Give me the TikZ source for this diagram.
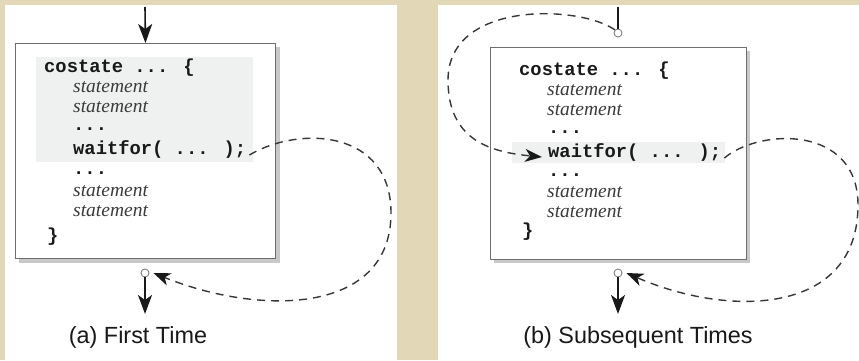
\documentclass[tikz,border=0pt]{standalone}
\usepackage{fontspec}
\setmainfont{Liberation Sans}
\newfontfamily\codefont{Liberation Mono}
\newfontfamily\stfont{Liberation Serif}
\usetikzlibrary{arrows.meta}
\definecolor{paper}{RGB}{226,216,184}
\definecolor{hilite}{RGB}{239,241,241}
\definecolor{boxline}{RGB}{110,110,110}
\definecolor{boxshade}{RGB}{200,200,200}
\definecolor{ink}{RGB}{25,25,25}
\definecolor{loopink}{RGB}{55,55,55}
\tikzset{
  panel/.style={fill=white, draw=none},
  codebox/.style={draw=boxline, fill=white, line width=0.9pt, inner sep=0pt, anchor=north west},
  codeline/.style={font=\codefont\bfseries\fontsize{18.8}{20}\selectfont, text=ink, anchor=base west, inner sep=0pt},
  stmtline/.style={font=\stfont\itshape\fontsize{19.5}{20}\selectfont, text=ink!85, anchor=base west, inner sep=0pt},
  port/.style={circle, draw=gray, fill=white, line width=0.9pt, inner sep=0pt, minimum size=8pt},
  flow/.style={draw=ink, line width=1.6pt, -{Stealth[length=19pt,width=14pt,inset=5pt]}},
  plain/.style={draw=ink, line width=1.6pt},
  loopline/.style={draw=loopink, line width=1.4pt, dash pattern=on 8pt off 6pt,
    -{Stealth[length=17pt,width=13pt,inset=5pt,color=ink]}},
  caption/.style={font=\fontsize{23.4}{26}\selectfont, text=ink, inner sep=0pt}
}
\begin{document}
\begin{tikzpicture}[x=1pt, y=-1pt]
  % page, panels
  \fill[paper] (0,0) rectangle (859,360);
  \useasboundingbox (0,0) rectangle (859,360);
  \fill[panel] (5,5) rectangle (397,360);
  \fill[panel] (438,5) rectangle (859,360);

  % ---------- (a) First Time ----------
  \fill[boxshade] (19,47) rectangle (280,263);
  \node[codebox, minimum width=260pt, minimum height=215pt] (boxA) at (15,43) {};
  \fill[hilite] (36,57) rectangle (253,162);
  \node[codeline] (a1) at (44,72) {costate ... \{};
  \node[stmtline] (a2) at (73,92) {statement};
  \node[stmtline] (a3) at (73,112) {statement};
  \node[codeline] (a4) at (73,130) {...};
  \node[codeline] (waitA) at (73,154) {waitfor( ... );};
  \node[codeline] (a6) at (73,174) {...};
  \node[stmtline] (a7) at (73,196) {statement};
  \node[stmtline] (a8) at (73,216) {statement};
  \node[codeline] (a9) at (47,241) {\}};

  \coordinate (inA) at (145,7);
  \draw[flow] (inA) -- (boxA.north);
  \node[port] (outA) at (145,273) {};
  \coordinate (endA) at (145,314);
  \draw[flow] (outA.south) -- (endA);
  \node[caption] (labA) at (138,337) {(a) First Time};

  \draw[loopline] ([xshift=3pt,yshift=-6pt]waitA.east)
    .. controls (300,125) and (391,130) .. (391,213)
    .. controls (391,315) and (260,316) .. ([xshift=4pt]outA.east);

  % ---------- (b) Subsequent Times ----------
  \fill[boxshade] (494,51) rectangle (750,263);
  \node[codebox, minimum width=256pt, minimum height=212pt] (boxB) at (490,47) {};
  \fill[hilite] (512,142) rectangle (725,163);
  \node[codeline] (b1) at (519,75) {costate ... \{};
  \node[stmtline] (b2) at (547,95) {statement};
  \node[stmtline] (b3) at (547,115) {statement};
  \node[codeline] (b4) at (548,133) {...};
  \node[codeline] (waitB) at (548,157) {waitfor( ... );};
  \node[codeline] (b6) at (548,176) {...};
  \node[stmtline] (b7) at (547,197) {statement};
  \node[stmtline] (b8) at (547,217) {statement};
  \node[codeline] (b9) at (522,236) {\}};

  \coordinate (inB) at (618,7);
  \node[port] (topB) at (618,33) {};
  \draw[plain] (inB) -- (topB.north);
  \node[port] (outB) at (618,273) {};
  \coordinate (endB) at (618,314);
  \draw[flow] (outB.south) -- (endB);
  \node[caption] (labB) at (638,337) {(b) Subsequent Times};

  \draw[loopline] (topB.north west)
    .. controls (580,5) and (448,0) .. (448,80)
    .. controls (448,140) and (490,152) .. ([xshift=-6pt,yshift=-5pt]waitB.west);

  \draw[loopline] ([xshift=3pt,yshift=-6pt]waitB.east)
    .. controls (760,128) and (858,125) .. (858,205)
    .. controls (858,315) and (730,318) .. ([xshift=4pt]outB.east);
\end{tikzpicture}
\end{document}
